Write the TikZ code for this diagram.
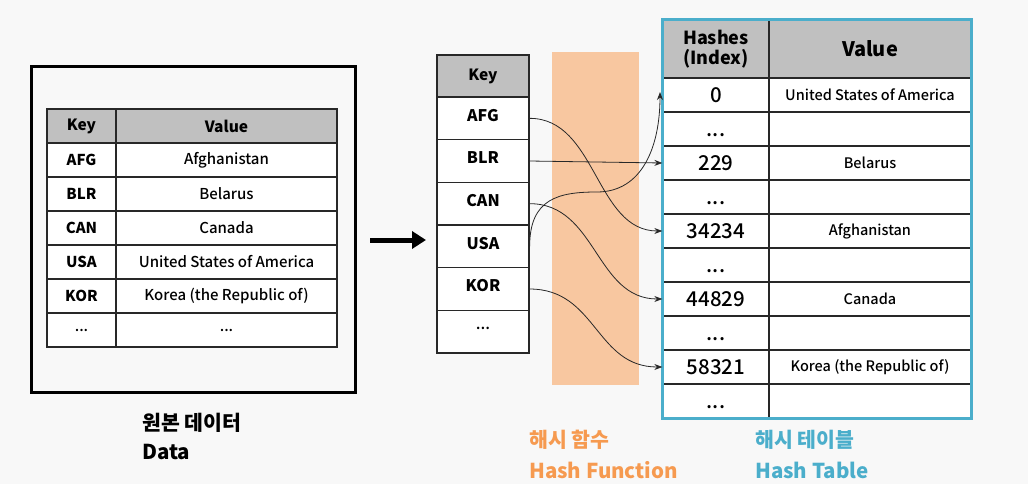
\documentclass[tikz,border=0pt]{standalone}
\usepackage{fontspec}
\setmainfont{Noto Sans CJK KR}
\newfontfamily\medf{Noto Sans CJK KR}[UprightFont=* Medium]
\usetikzlibrary{arrows.meta}
\definecolor{bgc}{RGB}{248,248,248}
\definecolor{hdr}{RGB}{192,192,192}
\definecolor{peach}{RGB}{248,199,160}
\definecolor{orangetxt}{RGB}{246,154,80}
\definecolor{bluetxt}{RGB}{75,174,203}
\definecolor{linec}{RGB}{40,40,40}
\newcommand{\mydts}{{\mdseries\medf ...}}
\newcommand{\lowdts}{\raisebox{-6pt}[\height][\depth]{...}}
\begin{document}
\begin{tikzpicture}[x=1pt,y=-1pt,
  cell/.style={draw=linec, line width=1.3pt, fill=white, inner sep=0pt, align=center, font=\medf\fontsize{15}{17}\selectfont},
  hcell/.style={cell, fill=hdr, font=\bfseries\fontsize{15.5}{17}\selectfont},
  numcell/.style={cell, font=\medf\fontsize{20.5}{22}\selectfont},
  link/.style={draw=linec, line width=0.8pt, -{Stealth[length=8pt,width=6pt]}},
  lbl/.style={anchor=west, inner sep=0pt, font=\bfseries\fontsize{20.5}{22}\selectfont}
]
\fill[bgc] (0,0) rectangle (1028,484);
\useasboundingbox (0,0) rectangle (1028,484);

% left outer box
\draw[line width=3pt, draw=black] (31,67) rectangle (355,392);

% left table
\node[hcell, minimum width=69pt, minimum height=34pt] (lk0) at (81.5,126) {Key};
\node[hcell, minimum width=221pt, minimum height=34pt] (lv0) at (226.5,126) {Value};
\foreach \i/\k/\v in {1/AFG/Afghanistan, 2/BLR/Belarus, 3/CAN/Canada, 4/USA/United States of America, 5/KOR/Korea (the Republic of), 6/\mydts/\mydts}{
  \node[cell, minimum width=69pt, minimum height=34pt, font=\bfseries\fontsize{15}{17}\selectfont] (lk\i) at (81.5,126+34*\i) {\k};
  \node[cell, minimum width=221pt, minimum height=34pt] (lv\i) at (226.5,126+34*\i) {\v};
}

% big arrow
\coordinate (ba1) at (370,240);
\coordinate (ba2) at (426,240);
\draw[line width=5pt, -{Triangle[length=14pt,width=17pt]}] (ba1) -- (ba2);

% hash function band
\fill[peach] (552,52) rectangle (639,385);

% key table
\node[hcell, minimum width=92pt, minimum height=42pt] (k0) at (483,76) {Key};
\foreach \i/\k in {1/AFG, 2/BLR, 3/CAN, 4/USA, 5/KOR, 6/\mydts}{
  \node[cell, minimum width=92pt, minimum height=42.67pt, font=\bfseries\fontsize{16}{18}\selectfont] (k\i) at (483,{97+42.67*(\i-0.5)}) {\raisebox{3pt}[\height][\depth]{\k}};
}

% hash table
\node[hcell, minimum width=106pt, minimum height=58pt, font=\bfseries\fontsize{18}{20}\selectfont] (h0) at (716,49) {Hashes\\(Index)};
\node[hcell, minimum width=202pt, minimum height=58pt, font=\bfseries\fontsize{20}{22}\selectfont] (hv0) at (870,49) {Value};
\foreach \i/\h/\v in {1/0/United States of America, 2/\lowdts/{}, 3/229/Belarus, 4/\lowdts/{}, 5/34234/Afghanistan, 6/\lowdts/{}, 7/44829/Canada, 8/\lowdts/{}, 9/58321/Korea (the Republic of), 10/\lowdts/{}}{
  \node[numcell, minimum width=106pt, minimum height=34pt] (h\i) at (716,{78+34*(\i-0.5)}) {\h};
  \node[cell, minimum width=202pt, minimum height=34pt, font=\medf\fontsize{14.5}{16}\selectfont] (hv\i) at (870,{78+34*(\i-0.5)}) {\v};
}
\draw[draw=bluetxt, line width=2.5pt] (h0.north west) rectangle (hv10.south east);

% links
\coordinate (uend) at (660,92);
\coordinate (umid) at (597,192);
\draw[link] (k1.east) .. controls +(67,0) and +(-67,0) .. (h5.west);
\draw[link] (k2.east) -- (h3.west);
\draw[link] (k3.east) .. controls +(67,0) and +(-67,0) .. (h7.west);
\draw[link] (k5.east) .. controls +(67,0) and +(-67,0) .. (h9.west);
\draw[link] (k4.east) .. controls +(0,-48) and +(-38,0) .. (umid) .. controls +(45,0) and +(0,55) .. (uend);

% labels
\node[lbl] (l1) at (142,423) {원본 데이터};
\node[lbl] (l2) at (142,452) {Data};
\node[lbl, text=orangetxt] (l3) at (529,440) {해시 함수};
\node[lbl, text=orangetxt] (l4) at (529,470) {Hash Function};
\node[lbl, text=bluetxt] (l5) at (755,440) {해시 테이블};
\node[lbl, text=bluetxt] (l6) at (755,470) {Hash Table};
\end{tikzpicture}
\end{document}
